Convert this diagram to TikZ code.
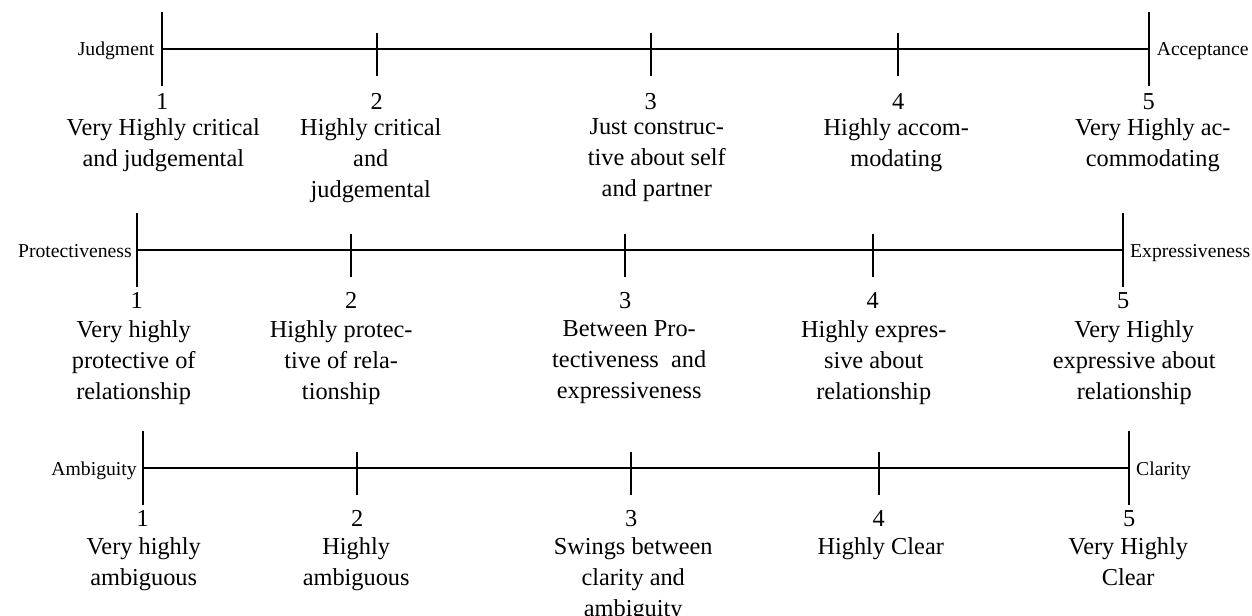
\documentclass[tikz,border=0pt]{standalone}
\usepackage{fontspec}
\setmainfont{Liberation Serif}
\usepackage{tikz}
\usetikzlibrary{positioning}
\newcommand\txtmain{\fontsize{14.6}{18.6}\selectfont}
\newcommand\txtend{\fontsize{11.8}{14}\selectfont}

\begin{document}
\begin{tikzpicture}[x=0.6pt,y=0.6pt,line width=1.2pt,
    lbl/.style={align=center,anchor=north,inner sep=0pt,font=\txtmain},
    num/.style={anchor=base,inner sep=0pt,font=\txtmain},
    endl/.style={anchor=base east,inner sep=0pt,font=\txtend},
    endr/.style={anchor=base west,inner sep=0pt,font=\txtend}]
\useasboundingbox (0,0) rectangle (1252,-615);
% Judgment -- Acceptance
\begin{scope}[shift={(162.3,-49)}]
\foreach \i/\x in {1/0,2/214.5,3/488.5,4/736,5/986.5} {
    \coordinate (ja\i) at (\x,0);
    \node[num] (jn\i) at (\x,-60) {\i};
}
\draw (ja1) -- (ja5);
\foreach \i in {1,5} \draw (ja\i) ++(0,37) -- ++(0,-74);
\foreach \i in {2,3,4} \draw (ja\i) ++(0,16.5) -- ++(0,-43);
\node[endl] (jleft) at (-7,-6) {Judgment};
\node[endr] (jright) at (993.5,-6) {Acceptance};
\node[lbl] (jl1) at (1,-69) {Very Highly critical\\and judgemental};
\node[lbl] (jl2) at (208.5,-69) {Highly critical\\and\\judgemental};
\node[lbl] (jl3) at (494.5,-69) {Just construc-\\tive about self\\and partner};
\node[lbl] (jl4) at (734,-69) {Highly accom-\\modating};
\node[lbl] (jl5) at (990.5,-69) {Very Highly ac-\\commodating};
\end{scope}
% Protectiveness -- Expressiveness
\begin{scope}[shift={(136.7,-250)}]
\foreach \i/\x in {1/0,2/214.5,3/488.5,4/736,5/986.5} {
    \coordinate (pa\i) at (\x,0);
    \node[num] (pn\i) at (\x,-58) {\i};
}
\draw (pa1) -- (pa5);
\foreach \i in {1,5} \draw (pa\i) ++(0,37) -- ++(0,-74);
\foreach \i in {2,3,4} \draw (pa\i) ++(0,16.5) -- ++(0,-43);
\node[endl] (pleft) at (-4,-7) {Protectiveness};
\node[endr] (pright) at (992.5,-7) {Expressiveness};
\node[lbl] (pl1) at (-3,-70) {Very highly\\protective of\\relationship};
\node[lbl] (pl2) at (204.5,-70) {Highly protec-\\tive of rela-\\tionship};
\node[lbl] (pl3) at (492.5,-70) {Between Pro-\\tectiveness~ and\\expressiveness};
\node[lbl] (pl4) at (737,-70) {Highly expres-\\sive about\\relationship};
\node[lbl] (pl5) at (997.5,-70) {Very Highly\\expressive about\\relationship};
\end{scope}
% Ambiguity -- Clarity
\begin{scope}[shift={(142.7,-468)}]
\foreach \i/\x in {1/0,2/214.5,3/488.5,4/736,5/986.5} {
    \coordinate (aa\i) at (\x,0);
    \node[num] (an\i) at (\x,-58) {\i};
}
\draw (aa1) -- (aa5);
\foreach \i in {1,5} \draw (aa\i) ++(0,37) -- ++(0,-74);
\foreach \i in {2,3,4} \draw (aa\i) ++(0,16.5) -- ++(0,-43);
\node[endl] (aleft) at (-5,-7) {Ambiguity};
\node[endr] (aright) at (992.5,-7) {Clarity};
\node[lbl] (al1) at (1,-69) {Very highly\\ambiguous};
\node[lbl] (al2) at (213.5,-69) {Highly\\ambiguous};
\node[lbl] (al3) at (490.5,-69) {Swings between\\clarity and\\ambiguity};
\node[lbl] (al4) at (738,-69) {Highly Clear};
\node[lbl] (al5) at (985.5,-69) {Very Highly\\Clear};
\end{scope}
\end{tikzpicture}
\end{document}
